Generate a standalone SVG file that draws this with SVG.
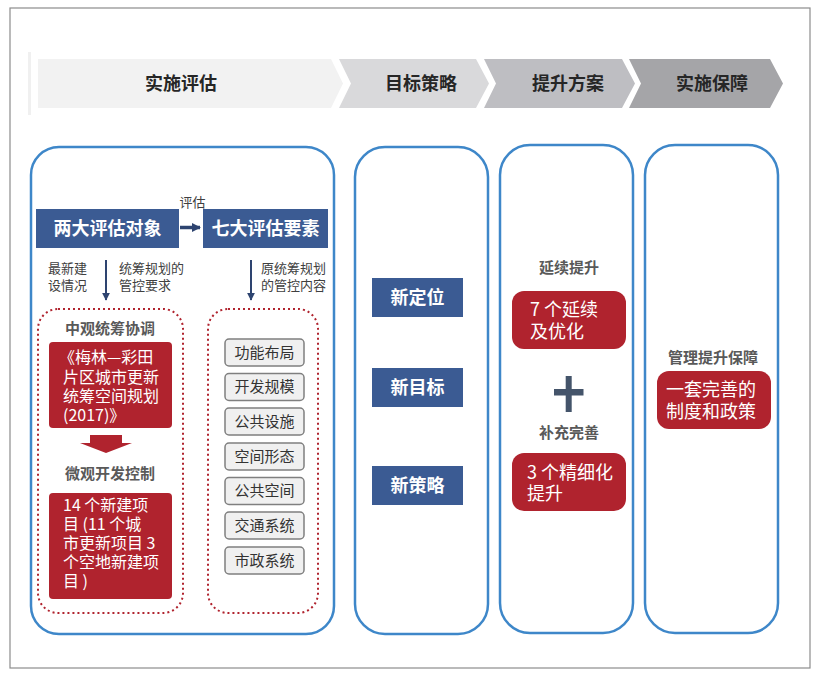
<svg xmlns="http://www.w3.org/2000/svg" width="825" height="681" viewBox="0 0 825 681">
<style>
text{font-family:"Noto Sans CJK SC","Noto Sans",sans-serif;}
.ban{font-size:18px;font-weight:bold;fill:#262626;text-anchor:middle;}
.panel{fill:#fff;stroke:#3e87c9;stroke-width:2.5;}
.blue{fill:#3b5b93;}
.bt{font-size:18px;font-weight:bold;fill:#fff;text-anchor:middle;}
.red{fill:#b0232e;}
.rt{font-size:16px;fill:#fff;}
.rt18{font-size:18px;fill:#fff;}
.hd{font-size:15px;font-weight:bold;fill:#595959;text-anchor:middle;}
.sm{font-size:13px;fill:#404040;}
.dot{fill:none;stroke:#b0232e;stroke-width:2;stroke-dasharray:2 3;}
.gb{fill:#f0f0f0;stroke:#7f7f7f;stroke-width:1.5;}
.gt{font-size:15px;fill:#333;text-anchor:middle;}
.arr{stroke:#2e4470;stroke-width:2;fill:none;}
</style>
<defs>
<marker id="ah" viewBox="0 0 10 10" refX="9" refY="5" markerWidth="4" markerHeight="5" orient="auto" markerUnits="strokeWidth">
<path d="M0,0 L10,5 L0,10 z" fill="#2e4470"/>
</marker>
<marker id="ah2" viewBox="0 0 10 10" refX="9" refY="5" markerWidth="2.6" markerHeight="3" orient="auto" markerUnits="strokeWidth">
<path d="M0,0 L10,5 L0,10 z" fill="#2e4470"/>
</marker>
</defs>
<rect x="0" y="0" width="825" height="681" fill="#fff"/>
<rect x="10" y="8" width="800" height="660" fill="#fff" stroke="#8c8c8c" stroke-width="1.2"/>

<g id="banner">
<rect x="28" y="52" width="3" height="63" fill="#f0f0f0"/>
<polygon points="38,59 331,59 343,83.5 331,108 38,108" fill="#f2f2f2"/>
<polygon points="339,59 476,59 489,83.5 476,108 339,108 351,83.5" fill="#d9d9db"/>
<polygon points="484,59 622,59 635,83.5 622,108 484,108 496,83.5" fill="#bebec2"/>
<polygon points="629,59 770,59 783,83.5 770,108 629,108 641,83.5" fill="#a5a5a8"/>
<text class="ban" x="181" y="90">实施评估</text>
<text class="ban" x="421" y="90">目标策略</text>
<text class="ban" x="568" y="90">提升方案</text>
<text class="ban" x="712" y="90">实施保障</text>
</g>

<g id="panel-evaluation">
<rect class="panel" x="31" y="147" width="303" height="487" rx="28"/>
<rect class="dot" x="38" y="309" width="145" height="304" rx="20"/>
<rect class="dot" x="208" y="309" width="110" height="304" rx="20"/>
</g>

<g id="node-two-objects">
<rect class="blue" x="36" y="209" width="143" height="39"/>
<text class="bt" x="107.5" y="235">两大评估对象</text>
</g>
<g id="node-seven-elements">
<rect class="blue" x="203" y="209" width="125" height="39"/>
<text class="bt" x="265.5" y="235">七大评估要素</text>
</g>

<g id="labels-left">
<text class="sm" x="48" y="272.5">最新建<tspan x="48" dy="17">设情况</tspan></text>
<text class="sm" x="119" y="272.5">统筹规划的<tspan x="119" dy="17">管控要求</tspan></text>
<text class="sm" x="261" y="272.5">原统筹规划<tspan x="261" dy="17">的管控内容</tspan></text>
</g>

<g id="node-meso">
<text class="hd" x="110" y="333.5">中观统筹协调</text>
<rect class="red" x="49" y="342" width="123" height="86" rx="4"/>
<text class="rt" x="59" y="362.5">《梅林—彩田<tspan x="63" dy="20">片区城市更新</tspan><tspan x="63" dy="19">统筹空间规划</tspan><tspan x="63" dy="19">(2017)》</tspan></text>
</g>
<g id="node-micro">
<text class="hd" x="110" y="478.5">微观开发控制</text>
<rect class="red" x="49" y="493" width="123" height="106" rx="4"/>
<text class="rt" x="63" y="510.5">14 个新建项<tspan x="63" dy="19">目 (11 个城</tspan><tspan x="63" dy="19">市更新项目 3</tspan><tspan x="63" dy="19">个空地新建项</tspan><tspan x="63" dy="19">目 )</tspan></text>
</g>

<g id="node-elements">
<rect class="gb" x="225" y="339" width="79" height="27" rx="4"/>
<text class="gt" x="264.5" y="357.5">功能布局</text>
<rect class="gb" x="225" y="373.5" width="79" height="27" rx="4"/>
<text class="gt" x="264.5" y="392">开发规模</text>
<rect class="gb" x="225" y="408" width="79" height="27" rx="4"/>
<text class="gt" x="264.5" y="426.5">公共设施</text>
<rect class="gb" x="225" y="443" width="79" height="27" rx="4"/>
<text class="gt" x="264.5" y="461.5">空间形态</text>
<rect class="gb" x="225" y="477.5" width="79" height="27" rx="4"/>
<text class="gt" x="264.5" y="496">公共空间</text>
<rect class="gb" x="225" y="512" width="79" height="27" rx="4"/>
<text class="gt" x="264.5" y="530.5">交通系统</text>
<rect class="gb" x="225" y="547" width="79" height="27" rx="4"/>
<text class="gt" x="264.5" y="565.5">市政系统</text>
</g>

<g id="connectors">
<line x1="180" y1="227.5" x2="200" y2="227.5" stroke="#2e4470" stroke-width="3.5" marker-end="url(#ah2)"/>
<text class="sm" x="192.5" y="207" text-anchor="middle">评估</text>
<line class="arr" x1="106" y1="260" x2="106" y2="300" marker-end="url(#ah)"/>
<line class="arr" x1="251" y1="260" x2="251" y2="300" marker-end="url(#ah)"/>
<polygon points="90,435 122,435 122,443 132,443 106,453 80,443 90,443" fill="#b0232e"/>
</g>

<g id="panel-strategy">
<rect class="panel" x="355" y="147" width="133" height="487" rx="30"/>
</g>
<g id="node-new-position">
<rect class="blue" x="372" y="278" width="91" height="39"/>
<text class="bt" x="417.5" y="304">新定位</text>
</g>
<g id="node-new-target">
<rect class="blue" x="372" y="368" width="91" height="39"/>
<text class="bt" x="417.5" y="394">新目标</text>
</g>
<g id="node-new-strategy">
<rect class="blue" x="372" y="466" width="91" height="39"/>
<text class="bt" x="417.5" y="492">新策略</text>
</g>

<g id="panel-plan">
<rect class="panel" x="500" y="145" width="133" height="488" rx="30"/>
<text class="hd" x="569" y="272.5">延续提升</text>
<text class="hd" x="569" y="437.5">补充完善</text>
<rect x="554" y="389" width="29.5" height="6.5" fill="#44546a"/>
<rect x="565.7" y="376" width="6" height="36" fill="#44546a"/>
</g>
<g id="node-seven-continue">
<rect class="red" x="512" y="291" width="114" height="58" rx="12"/>
<text class="rt18" x="530" y="315.5">7 个延续<tspan x="530" dy="22">及优化</tspan></text>
</g>
<g id="node-three-refine">
<rect class="red" x="512" y="453" width="114" height="58" rx="12"/>
<text class="rt18" x="527" y="478.5">3 个精细化<tspan x="527" dy="21">提升</tspan></text>
</g>

<g id="panel-guarantee">
<rect class="panel" x="645" y="145" width="133" height="488" rx="30"/>
<text class="hd" x="713" y="362.5">管理提升保障</text>
</g>
<g id="node-policy">
<rect class="red" x="657" y="371" width="114" height="58" rx="12"/>
<text class="rt18" x="666" y="395.5">一套完善的<tspan x="666" dy="22">制度和政策</tspan></text>
</g>
</svg>
